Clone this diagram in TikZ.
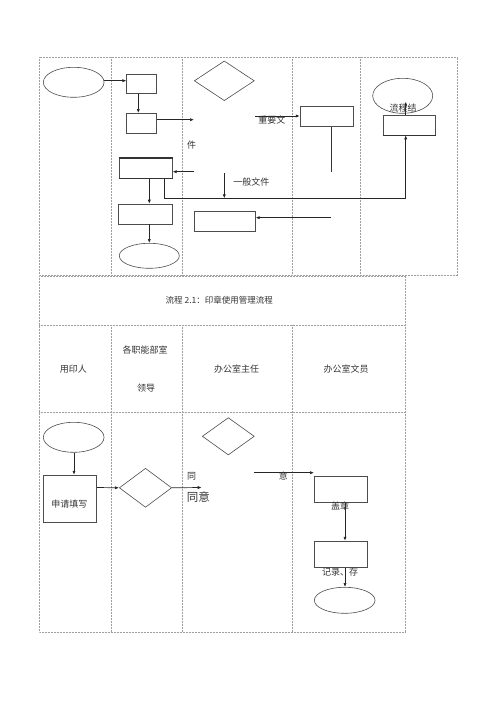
\documentclass[tikz,border=0pt]{standalone}
\usepackage{fontspec}
\newfontfamily\cjk{Noto Sans CJK SC}
\usetikzlibrary{shapes.geometric,arrows.meta}
\begin{document}
\begin{tikzpicture}[x=1pt,y=-1pt,
 grid/.style={gray!75, densely dotted, line width=0.5pt},
 box/.style={draw=black!70, line width=0.6pt, rectangle, inner sep=0pt},
 oval/.style={draw=black!70, line width=0.6pt, ellipse, inner sep=0pt},
 dia/.style={draw=black!70, line width=0.6pt, diamond, inner sep=0pt},
 arr/.style={-{Latex[length=4pt,width=3.2pt]}, line width=0.7pt, black!85},
 ln/.style={line width=0.6pt, black!80},
 lbl/.style={font=\cjk\fontsize{9}{10}\selectfont, inner sep=0pt, text=black!80}]
\useasboundingbox (0,0) rectangle (500,707);
% ---------- top table ----------
\draw[grid] (39,57) rectangle (457.7,275);
\foreach \x in {111.7,182,292.7,360} \draw[grid] (\x,57) -- (\x,275);
% ---------- lower table ----------
\draw[grid] (39,276) rectangle (405.7,632);
\draw[grid] (39,325) -- (405.7,325);
\draw[grid] (39,412.7) -- (405.7,412.7);
\foreach \x in {111.7,182,292.7} \draw[grid] (\x,325) -- (\x,632);
\node[lbl,font=\cjk\fontsize{8.5}{10}\selectfont] (title) at (219.3,300) {流程 2.1：印章使用管理流程};
\node[lbl] (h1) at (73.3,369.3) {用印人};
\node[lbl] (h2a) at (145,350) {各职能部室};
\node[lbl] (h2b) at (146,387.7) {领导};
\node[lbl] (h3) at (236.7,369.3) {办公室主任};
\node[lbl] (h4) at (346,369.3) {办公室文员};
% ---------- top flow shapes ----------
\node[oval, minimum width=60.7pt, minimum height=30pt] (e1) at (73.7,82.3) {};
\node[box, minimum width=30pt, minimum height=19.3pt] (r1) at (141.7,83.7) {};
\node[box, minimum width=30pt, minimum height=20pt] (r2) at (141.7,123.3) {};
\node[dia, minimum width=60pt, minimum height=39.7pt] (d0) at (224.3,80.8) {};
\node[box, minimum width=53.3pt, minimum height=20pt] (r3) at (326.7,116.7) {};
\node[oval, minimum width=60pt, minimum height=35pt] (e3) at (402.7,95.8) {};
\node[box, minimum width=52.4pt, minimum height=20pt] (r4) at (409.5,125) {};
\draw[line width=1.1pt, black!80] (r4.south west) -- (r4.south east);
\node[box, minimum width=53pt, minimum height=20pt] (r5) at (145.8,168.3) {};
\draw[line width=1.1pt, black!80] (r5.north west) -- (r5.north east);
\draw[line width=1.1pt, black!80] (r5.south west) -- (r5.south east);
\node[box, minimum width=53.6pt, minimum height=20pt] (r6) at (145.5,214) {};
\node[oval, minimum width=60pt, minimum height=25pt] (e2) at (149.3,255.8) {};
\node[box, minimum width=61pt, minimum height=20pt] (r7) at (224.8,221.7) {};
% coordinates
\coordinate (c1) at (194,119.7);
\coordinate (c2) at (331,171.7);
\coordinate (c3) at (194.3,171.7);
\coordinate (c4) at (164.3,178.3);
\coordinate (c5) at (405.7,198.3);
\coordinate (c6) at (224.3,173.3);
\coordinate (c7) at (224.3,198.3);
\coordinate (c8) at (331,217.7);
\coordinate (c9) at (405.7,101.7);
\coordinate (c12) at (255.3,116);
\coordinate (xa) at (149.3,0);
\coordinate (xr) at (138.3,0);
% top connectors
\draw[arr] (e1.east |- 0,80.7) -- (r1.west |- 0,80.7);
\draw[arr] (r1.south -| xr) -- (r2.north -| xr);
\draw[arr] (r2.east |- c1) -- (c1);
\draw[arr] (c12) -- (c12 -| r3.west);
\draw[ln] (r3.south -| c2) -- (c2);
\draw[arr] (c3) -- (c3 -| r5.east);
\draw[arr] (c4) -- (c4 |- c5) -- (c5) -- (c5 |- r4.south);
\draw[arr] (c6) -- (c7);
\draw[arr] (r5.south -| xa) -- (r6.north -| xa);
\draw[arr] (r6.south -| xa) -- (e2.north -| xa);
\draw[arr] (c8) -- (c8 -| r7.east);
\draw[arr] (r4.north -| c9) -- (c9);
% top labels
\node[lbl] (t1) at (191.7,145) {件};
\node[lbl] (t2) at (271.8,120) {重要文};
\node[lbl] (t3) at (251.3,181.7) {一般文件};
\node[lbl] (t4) at (403,108.3) {流程结};
% ---------- bottom flow shapes ----------
\node[oval, minimum width=60.7pt, minimum height=30pt] (e4) at (73.7,437.3) {};
\node[box, minimum width=53.4pt, minimum height=47.3pt] (r8) at (70,498.7) {};
\node[lbl] (t5) at (69.3,504) {申请填写};
\node[dia, minimum width=52.4pt, minimum height=39pt] (d1) at (145.5,487.8) {};
\node[dia, minimum width=52pt, minimum height=37.3pt] (d2) at (228.3,436.3) {};
\node[box, minimum width=53.4pt, minimum height=25.6pt] (r9) at (341,489.5) {};
\node[box, minimum width=53.4pt, minimum height=26.3pt] (r10) at (341,554.2) {};
\node[oval, minimum width=60.7pt, minimum height=26pt] (e5) at (344.7,600.3) {};
\coordinate (c10) at (201.7,487.5);
\coordinate (c11) at (254.3,472.7);
\coordinate (xb) at (345,0);
\draw[arr] (e4.south -| 74,0) -- (r8.north -| 74,0);
\draw[arr] (r8.east |- 0,487.5) -- (d1.west);
\draw[arr] (d1.east) -- (c10);
\draw[arr] (c11) -- (c11 -| r9.west);
\draw[arr] (r9.south -| xb) -- (r10.north -| xb);
\draw[arr] (r10.south -| xb) -- (e5.north -| xb);
\node[lbl] (t6) at (191.7,476) {同};
\node[lbl, font=\cjk\fontsize{11.5}{13}\selectfont] (t7) at (198.3,496.7) {同意};
\node[lbl] (t8) at (283.3,476) {意};
\node[lbl] (t9) at (340,506) {盖章};
\node[lbl] (t10) at (340,571.7) {记录、存};
\end{tikzpicture}
\end{document}
